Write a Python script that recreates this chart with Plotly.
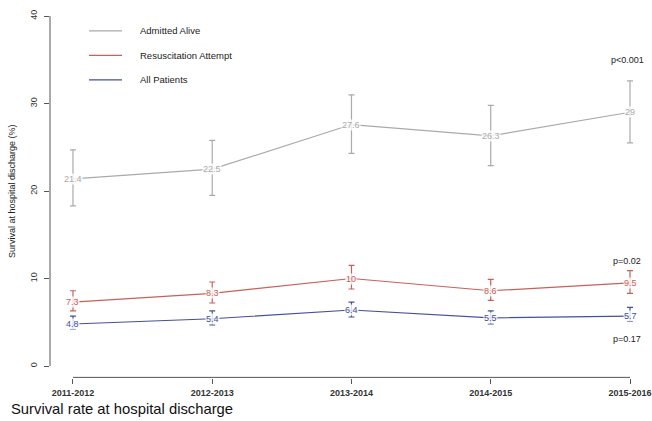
import plotly.graph_objects as go

years = ["2011-2012", "2012-2013", "2013-2014", "2014-2015", "2015-2016"]

alive = [21.4, 22.5, 27.6, 26.3, 29.0]
alive_lo = [18.3, 19.5, 24.3, 22.9, 25.5]
alive_hi = [24.7, 25.8, 31.0, 29.8, 32.6]

resus = [7.3, 8.3, 10.0, 8.6, 9.5]
resus_lo = [6.3, 7.2, 8.8, 7.5, 8.3]
resus_hi = [8.6, 9.6, 11.5, 9.9, 10.9]

allp = [4.8, 5.4, 6.4, 5.5, 5.7]
allp_lo = [4.2, 4.7, 5.6, 4.8, 5.1]
allp_hi = [5.7, 6.3, 7.3, 6.3, 6.7]

series_names = ["Admitted Alive", "Resuscitation Attempt", "All Patients"]
colors = ["#aaaaaa", "#c8605a", "#43509a"]
p_labels = ["p<0.001", "p=0.02", "p=0.17"]
p_y = [35.0, 12.0, 3.1]
y_ticks = [0, 10, 20, 30, 40]

FONT = "Liberation Sans, Arial, sans-serif"
xs = list(range(len(years)))

fig = go.Figure()
annotations = []
for name, vals, lo, hi, col in [
    (series_names[0], alive, alive_lo, alive_hi, colors[0]),
    (series_names[1], resus, resus_lo, resus_hi, colors[1]),
    (series_names[2], allp, allp_lo, allp_hi, colors[2]),
]:
    fig.add_trace(go.Scatter(
        x=xs, y=vals, mode="lines", name=name,
        line=dict(color=col, width=1.2),
        error_y=dict(type="data", symmetric=False,
                     array=[h - v for h, v in zip(hi, vals)],
                     arrayminus=[v - l for l, v in zip(lo, vals)],
                     color=col, thickness=1.2, width=3),
        showlegend=False, hoverinfo="skip",
    ))
    for x, v in zip(xs, vals):
        annotations.append(dict(
            x=x, y=v, xref="x", yref="y", text=("%g" % v),
            showarrow=False, font=dict(family=FONT, size=9, color=col),
            bgcolor="rgba(255,255,255,0.8)", borderpad=0,
        ))

# p-value labels
for lab, py in zip(p_labels, p_y):
    annotations.append(dict(x=3.98, y=py, xref="x", yref="y", text=lab,
                            showarrow=False,
                            font=dict(family=FONT, size=9, color="#222222")))

# legend (drawn manually, R style)
leg_y = [38.3, 35.5, 32.7]
shapes = []
for name, col, ly in zip(series_names, colors, leg_y):
    shapes.append(dict(type="line", xref="paper", yref="y",
                       x0=(89 - 50) / 602, x1=(122 - 50) / 602, y0=ly, y1=ly,
                       line=dict(color=col, width=1.2)))
    annotations.append(dict(x=(138 - 50) / 602, y=ly, xref="paper", yref="y",
                            text=name, showarrow=False, xanchor="left",
                            font=dict(family=FONT, size=9.5, color="#222222")))

# axis lines (R style: spanning only the tick range)
shapes.append(dict(type="line", xref="paper", yref="y", x0=0, x1=0,
                   y0=0, y1=40, line=dict(color="#555555", width=1)))
shapes.append(dict(type="line", xref="x", yref="y", x0=0, x1=4,
                   y0=-1.3, y1=-1.3, line=dict(color="#555555", width=1)))

# y title
annotations.append(dict(x=-38 / 602, y=20, xref="paper", yref="y",
                        xanchor="center", yanchor="middle",
                        text="Survival at hospital discharge (%)",
                        textangle=-90, showarrow=False,
                        font=dict(family=FONT, size=9, color="#222222")))
# caption
annotations.append(dict(x=-41 / 602, y=-0.057, xref="paper", yref="paper",
                        xanchor="left", yanchor="top",
                        text="Survival rate at hospital discharge",
                        showarrow=False,
                        font=dict(family=FONT, size=14.8, color="#111111")))

fig.update_layout(
    width=652, height=421,
    margin=dict(l=50, r=0, t=10, b=43),
    paper_bgcolor="white", plot_bgcolor="white",
    showlegend=False,
    annotations=annotations, shapes=shapes,
    xaxis=dict(range=[-0.165, 4.158], tickvals=xs,
               ticktext=["<b>%s</b>" % y for y in years],
               showgrid=False, zeroline=False, showline=False,
               ticks="outside", ticklen=5, tickcolor="#555555",
               ticklabelstandoff=1,
               tickfont=dict(family=FONT, size=9, color="#333333"),
               fixedrange=True),
    yaxis=dict(range=[-1.37, 40.69], tickvals=y_ticks,
               showgrid=False, zeroline=False, showline=False,
               ticks="outside", ticklen=5, tickcolor="#555555",
               tickangle=-90, ticklabelstandoff=3,
               tickfont=dict(family=FONT, size=9, color="#333333"),
               fixedrange=True),
)

fig.write_html("out.html", config={"displayModeBar": False},
               post_script="document.body.style.margin='0';document.body.style.overflow='hidden';")
